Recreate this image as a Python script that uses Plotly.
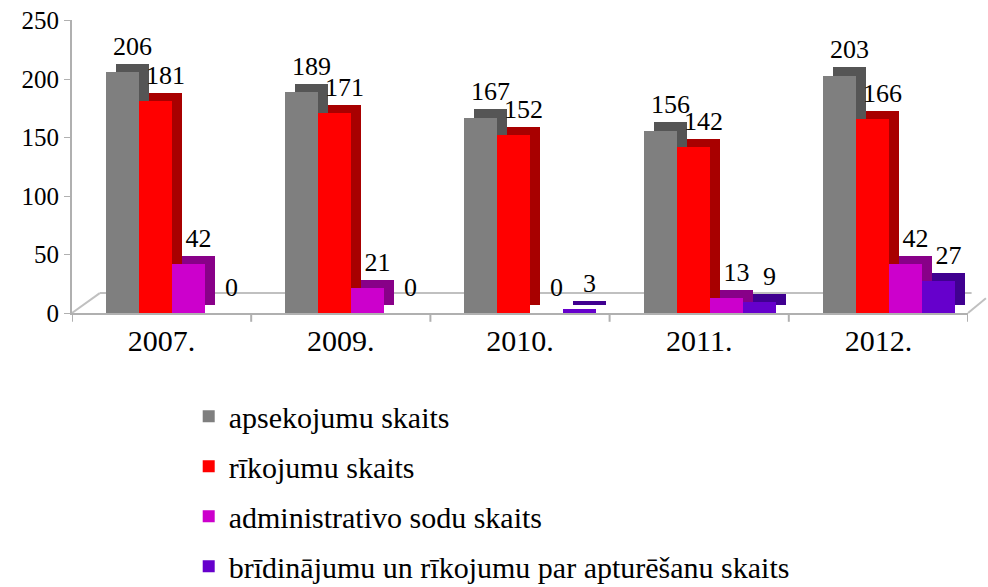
import plotly.graph_objects as go

categories = ["2007.", "2009.", "2010.", "2011.", "2012."]
series_names = [
    "apsekojumu skaits",
    "rīkojumu skaits",
    "administrativo sodu skaits",
    "brīdinājumu un rīkojumu par apturēšanu skaits",
]
apsekojumu = [206, 189, 167, 156, 203]
rikojumu = [181, 171, 152, 142, 166]
administrativo = [42, 21, 0, 13, 42]
bridinajumu = [0, 0, 3, 9, 27]
y_ticks = [0, 50, 100, 150, 200, 250]

values = [apsekojumu, rikojumu, administrativo, bridinajumu]
front_colors = ["#7f7f7f", "#ff0000", "#cc00cc", "#6600cc"]
side_colors = ["#555555", "#a80000", "#880088", "#400090"]

FONT = "Times New Roman, Liberation Serif, DejaVu Serif, serif"
bar_w = 0.184
start = -0.31
depth_x = 0.056
depth_y = 7

fig = go.Figure()
xi = list(range(len(categories)))
for i, (name, vals) in enumerate(zip(series_names, values)):
    off = start + i * bar_w
    fig.add_trace(go.Bar(
        x=xi, y=vals, base=depth_y, offset=off + depth_x, width=bar_w,
        marker=dict(color=side_colors[i], line=dict(width=0)),
        text=[str(v) for v in vals], textposition="outside", constraintext="none",
        textfont=dict(family=FONT, size=26, color="#000000"),
        cliponaxis=False, showlegend=False, hoverinfo="skip",
    ))
    fig.add_trace(go.Bar(
        x=xi, y=vals, offset=off, width=bar_w, name=name,
        legendgroup=f"g{i}",
        marker=dict(color=front_colors[i], line=dict(width=0)),
    ))

floor_col = "#c0c0c0"
fig.add_shape(type="line", xref="paper", yref="paper", x0=0.031, y0=0.068, x1=1.004, y1=0.068,
              line=dict(color=floor_col, width=2), layer="below")
fig.add_shape(type="line", xref="paper", yref="paper", x0=0.0, y0=0.0, x1=0.031, y1=0.068,
              line=dict(color=floor_col, width=2), layer="below")
fig.add_shape(type="line", xref="paper", yref="paper", x0=1.0, y0=0.0, x1=1.02, y1=0.05,
              line=dict(color=floor_col, width=2), layer="below")

fig.update_layout(
    width=988, height=587,
    margin=dict(l=72, r=20, t=20, b=274, autoexpand=False),
    barmode="overlay",
    paper_bgcolor="white", plot_bgcolor="white",
    font=dict(family=FONT, size=25, color="#000000"),
    xaxis=dict(
        tickmode="array", tickvals=xi, ticktext=categories,
        range=[-0.5, 4.5], showgrid=False, zeroline=False,
        showline=True, linecolor="#b0b0b0", linewidth=2,
        ticks="", tickfont=dict(family=FONT, size=30), automargin=False,
    ),
    yaxis=dict(
        range=[0, 250.5], tickvals=y_ticks, showgrid=False, zeroline=False,
        showline=True, linecolor="#b0b0b0", linewidth=2,
        ticks="outside", ticklen=6, tickcolor="#b0b0b0",
        tickfont=dict(family=FONT, size=25), automargin=False,
    ),
    legend=dict(
        xref="container", yref="container",
        x=0.191, y=0.335, xanchor="left", yanchor="top",
        orientation="v", tracegroupgap=8,
        font=dict(family=FONT, size=30),
    ),
    bargap=0,
)
for k in range(len(categories) + 1):
    fig.add_shape(type="line", xref="x", yref="paper", x0=k - 0.5, x1=k - 0.5, y0=0, y1=-0.03,
                  line=dict(color="#b0b0b0", width=2))

fig.write_html("out.html", config={"displayModeBar": False},
               post_script="document.body.style.margin='0px';")
